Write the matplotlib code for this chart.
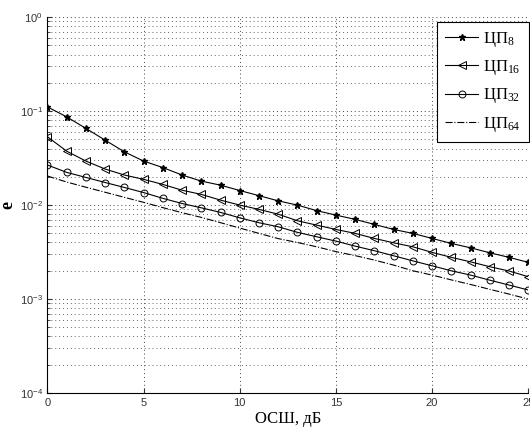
import matplotlib
matplotlib.use("Agg")
from matplotlib import pyplot as plt

plt.rcParams['mathtext.fontset'] = 'custom'
plt.rcParams['mathtext.rm'] = 'Liberation Serif'
plt.rcParams['mathtext.it'] = 'Liberation Serif:italic'

snr = list(range(0, 26))

cp8 = [0.111, 0.0869, 0.0655, 0.0491, 0.0369, 0.0294, 0.0251, 0.0209, 0.0180, 0.0163,
       0.0143, 0.0126, 0.0111, 0.0100, 0.00873, 0.00783, 0.00705, 0.00623, 0.00551, 0.00500,
       0.00442, 0.00391, 0.00351, 0.00311, 0.00278, 0.00246]
cp16 = [0.0533, 0.0375, 0.0294, 0.0242, 0.0209, 0.0188, 0.0166, 0.0144, 0.0130, 0.0113,
        0.0100, 0.0090, 0.0080, 0.00681, 0.00612, 0.00551, 0.00500, 0.00442, 0.00397, 0.00360,
        0.00314, 0.00278, 0.00249, 0.00221, 0.00199, 0.00173]
cp32 = [0.0267, 0.0223, 0.0197, 0.0174, 0.0154, 0.0136, 0.0118, 0.0104, 0.00936, 0.00836,
        0.00732, 0.00649, 0.00588, 0.00513, 0.00460, 0.00414, 0.00366, 0.00327, 0.00289, 0.00255,
        0.00226, 0.00200, 0.00180, 0.00159, 0.00141, 0.00125]
cp64 = [0.0204, 0.0176, 0.0155, 0.0137, 0.0121, 0.0107, 0.0094, 0.0083, 0.0074, 0.0065,
        0.0057, 0.0050, 0.0044, 0.0040, 0.0036, 0.0032, 0.0029, 0.0026, 0.0023, 0.0020,
        0.0018, 0.0016, 0.00143, 0.00127, 0.00113, 0.00100]

labels = ['ЦП$_{\\mathrm{8}}$', 'ЦП$_{\\mathrm{16}}$', 'ЦП$_{\\mathrm{32}}$', 'ЦП$_{\\mathrm{64}}$']

fig = plt.figure(figsize=(5.3, 4.3), dpi=100)
ax = fig.add_axes([0.0896, 0.086, 0.907, 0.874])

ax.semilogy(snr, cp8, color='black', lw=0.8, marker='*', ms=4.5, label=labels[0])
ax.semilogy(snr, cp16, color='black', lw=0.8, marker='<', ms=6, mfc='none', mew=0.7, label=labels[1])
ax.semilogy(snr, cp32, color='black', lw=0.8, marker='o', ms=5, mfc='none', mew=0.7, label=labels[2])
ax.semilogy(snr, cp64, color='black', lw=0.8, ls='-.', label=labels[3])

ax.set_xlim(0, 25)
ax.set_ylim(1e-4, 1)
ax.set_xticks([0, 5, 10, 15, 20, 25])
ax.grid(True, which='major', axis='both', ls=(0, (1, 3)), color='#444444', lw=0.7)
ax.grid(True, which='minor', axis='y', ls=(0, (1, 3)), color='#666666', lw=0.7)
ax.tick_params(which='both', direction='in', labelsize=8, colors='#333333')
for t in ax.get_xticklabels() + ax.get_yticklabels():
    t.set_family('Liberation Sans')
ax.spines['top'].set_visible(False)
ax.spines['right'].set_visible(False)

ax.set_xlabel('ОСШ, дБ', family='Liberation Serif', fontsize=12, labelpad=2)
ax.set_ylabel('e', family='Liberation Serif', fontsize=13, fontweight='bold', labelpad=2)

leg = ax.legend(loc='upper right', bbox_to_anchor=(1.002, 0.988), borderaxespad=0,
                prop={'family': 'Liberation Serif', 'size': 12},
                handlelength=2.0, handletextpad=0.3, fancybox=False, framealpha=1,
                edgecolor='black', labelspacing=0.55, borderpad=0.5)
leg.get_frame().set_linewidth(0.8)

fig.savefig('out.png', dpi=100)
